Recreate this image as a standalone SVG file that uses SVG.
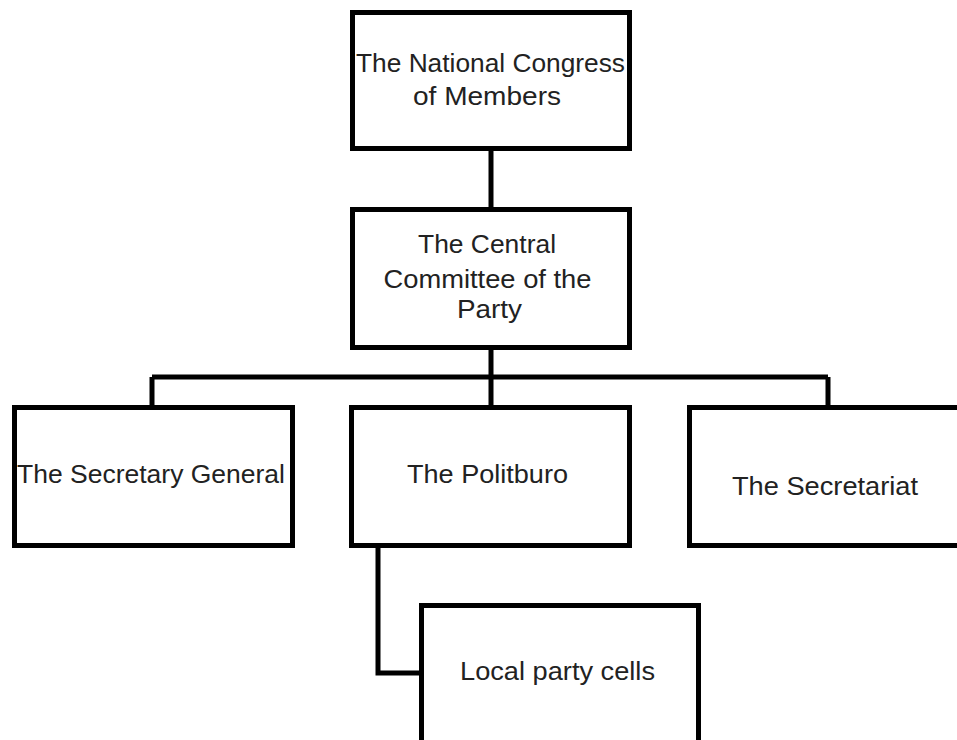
<svg xmlns="http://www.w3.org/2000/svg" width="957" height="740" viewBox="0 0 957 740">
<style>
.box{fill:#fff;stroke:#000;stroke-width:5}
.conn{fill:none;stroke:#000;stroke-width:5;stroke-linejoin:miter}
text{font-family:"Liberation Sans",Arial,sans-serif;font-size:26px;fill:#222;text-anchor:middle}
</style>
<rect width="957" height="740" fill="#fff"/>
<g id="connectors">
<path class="conn" d="M491,150 V208"/>
<path class="conn" d="M491,350 V377 M152,377 H828 M152,377 V405 M491,377 V405 M828,377 V405"/>
<path class="conn" d="M378,547 V673 H420"/>
</g>
<g id="national-congress">
<rect class="box" x="352.5" y="12.5" width="277" height="136"/>
<text x="490.5" y="72" textLength="269" lengthAdjust="spacingAndGlyphs">The National Congress</text>
<text x="487" y="105" textLength="148" lengthAdjust="spacingAndGlyphs">of Members</text>
</g>
<g id="central-committee">
<rect class="box" x="352.5" y="209.5" width="277" height="138"/>
<text x="487" y="253" textLength="138" lengthAdjust="spacingAndGlyphs">The Central</text>
<text x="487.5" y="288" textLength="208" lengthAdjust="spacingAndGlyphs">Committee of the</text>
<text x="489.5" y="318" textLength="65" lengthAdjust="spacingAndGlyphs">Party</text>
</g>
<g id="secretary-general">
<rect class="box" x="14.5" y="407.5" width="278" height="138"/>
<text x="151" y="483" textLength="268" lengthAdjust="spacingAndGlyphs">The Secretary General</text>
</g>
<g id="politburo">
<rect class="box" x="351.5" y="407.5" width="278" height="138"/>
<text x="487.5" y="483" textLength="161" lengthAdjust="spacingAndGlyphs">The Politburo</text>
</g>
<g id="secretariat">
<rect class="box" x="689.5" y="407.5" width="290" height="138"/>
<text x="825" y="495" textLength="186" lengthAdjust="spacingAndGlyphs">The Secretariat</text>
</g>
<g id="local-party-cells">
<rect class="box" x="421.5" y="605.5" width="277" height="160"/>
<text x="557.5" y="680" textLength="195" lengthAdjust="spacingAndGlyphs">Local party cells</text>
</g>
</svg>
